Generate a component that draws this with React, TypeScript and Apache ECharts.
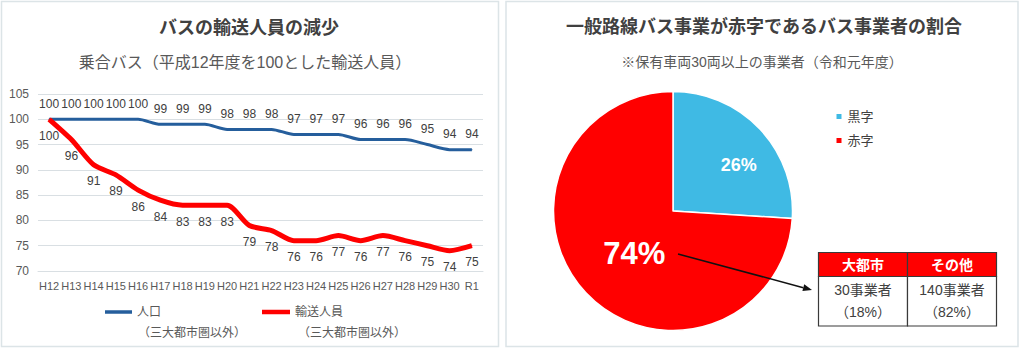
import React, { useEffect, useRef } from 'react';
import * as echarts from 'echarts';

const years = ['H12', 'H13', 'H14', 'H15', 'H16', 'H17', 'H18', 'H19', 'H20', 'H21', 'H22', 'H23', 'H24', 'H25', 'H26', 'H27', 'H28', 'H29', 'H30', 'R1'];
const population = [100, 100, 100, 100, 100, 99, 99, 99, 98, 98, 98, 97, 97, 97, 96, 96, 96, 95, 94, 94];
const ridership = [100, 96, 91, 89, 86, 84, 83, 83, 83, 79, 78, 76, 76, 77, 76, 77, 76, 75, 74, 75];
const lineSeriesNames = ['人口', '輸送人員'];
const lineNote = '（三大都市圏以外）';

const pieCategories = ['黒字', '赤字'];
const pieValues = [26, 74];

const tableHeaders = ['大都市', 'その他'];
const tableCounts = ['30事業者', '140事業者'];
const tableShares = ['（18%）', '（82%）'];

const FONT = "'Liberation Sans', 'Noto Sans CJK JP', sans-serif";
const DARK = '#404040';
const GRAY = '#595959';

export default function App() {
  const ref = useRef<HTMLDivElement>(null);

  useEffect(() => {
    document.body.style.margin = '0';
    if (!ref.current) return;
    const chart = echarts.init(ref.current, undefined, { renderer: 'svg' });

    const graphic: any[] = [];
    // panel frames
    graphic.push({ type: 'rect', silent: true, shape: { x: 1.5, y: 1.5, width: 497, height: 345 }, style: { fill: 'none', stroke: '#dce4e7', lineWidth: 1.5 } });
    graphic.push({ type: 'rect', silent: true, shape: { x: 506, y: 1.5, width: 512, height: 345 }, style: { fill: 'none', stroke: '#dce4e7', lineWidth: 1.5 } });

    const txt = (text: string, x: number, y: number, size: number, color: string, weight: string = 'normal', align: string = 'center') => ({
      type: 'text', silent: true, x, y, z: 100,
      style: { text, fontSize: size, fontWeight: weight, fontFamily: FONT, fill: color, textAlign: align, textVerticalAlign: 'middle' },
    });

    graphic.push(txt('バスの輸送人員の減少', 249, 28, 18, DARK, 'bold'));
    graphic.push(txt('乗合バス（平成12年度を100とした輸送人員）', 245, 62, 16, GRAY));
    graphic.push(txt(lineNote, 138, 333, 12, GRAY, 'normal', 'left'));
    graphic.push(txt(lineNote, 298, 333, 12, GRAY, 'normal', 'left'));

    graphic.push(txt('一般路線バス事業が赤字であるバス事業者の割合', 764, 27, 18, DARK, 'bold'));
    graphic.push(txt('※保有車両30両以上の事業者（令和元年度）', 762, 62, 14, GRAY));

    // arrow from 74% label to table
    const ax1 = 678, ay1 = 254, ax2 = 812, ay2 = 290;
    const dx = ax2 - ax1, dy = ay2 - ay1, len = Math.sqrt(dx * dx + dy * dy);
    const ux = dx / len, uy = dy / len;
    const bx = ax2 - ux * 9, by = ay2 - uy * 9;
    graphic.push({ type: 'line', silent: true, z: 100, shape: { x1: ax1, y1: ay1, x2: bx, y2: by }, style: { stroke: '#111', lineWidth: 1.5 } });
    graphic.push({ type: 'polygon', silent: true, z: 100, shape: { points: [[ax2, ay2], [bx - uy * 3.5, by + ux * 3.5], [bx + uy * 3.5, by - ux * 3.5]] }, style: { fill: '#111' } });

    // table
    const tx = 818.5, ty = 252.5, colW = 89, headH = 24, bodyH = 49.5;
    tableHeaders.forEach((h, i) => {
      const x = tx + i * colW;
      graphic.push({ type: 'rect', silent: true, z: 100, shape: { x, y: ty, width: colW, height: headH }, style: { fill: '#ff0000', stroke: '#3a3a3a', lineWidth: 1.2 } });
      graphic.push({ type: 'rect', silent: true, z: 100, shape: { x, y: ty + headH, width: colW, height: bodyH }, style: { fill: '#ffffff', stroke: '#3a3a3a', lineWidth: 1.2 } });
      graphic.push(txt(h, x + colW / 2, ty + headH / 2 + 0.5, 14, '#ffffff', 'bold'));
      graphic.push(txt(tableCounts[i], x + colW / 2, ty + headH + 13, 14, DARK));
      graphic.push(txt(tableShares[i], x + colW / 2, ty + headH + 35, 14, DARK));
    });

    chart.setOption({
      animation: false,
      backgroundColor: '#ffffff',
      textStyle: { fontFamily: FONT },
      grid: { left: 38, right: 541, top: 94, bottom: 81 },
      xAxis: {
        type: 'category',
        data: years,
        boundaryGap: true,
        axisLine: { show: true, lineStyle: { color: '#d9dfe3', width: 1 } },
        axisTick: { show: false },
        axisLabel: { color: GRAY, fontSize: 11, margin: 9, interval: 0, fontFamily: FONT },
      },
      yAxis: {
        type: 'value',
        min: 70,
        max: 105,
        interval: 5,
        axisLine: { show: false },
        axisTick: { show: false },
        axisLabel: { color: GRAY, fontSize: 12, margin: 9, fontFamily: FONT },
        splitLine: { lineStyle: { color: '#d9dfe3', width: 1 } },
      },
      legend: [
        {
          data: [lineSeriesNames[0]], left: 105, top: 306, padding: 0, icon: 'rect', itemWidth: 27, itemHeight: 3.5,
          textStyle: { color: GRAY, fontSize: 12, fontFamily: FONT }, selectedMode: false,
        },
        {
          data: [lineSeriesNames[1]], left: 262, top: 306, padding: 0, icon: 'rect', itemWidth: 28, itemHeight: 4.5,
          textStyle: { color: GRAY, fontSize: 12, fontFamily: FONT }, selectedMode: false,
        },
        {
          data: pieCategories, left: 834.5, top: 110, padding: 0, orient: 'vertical', icon: 'rect', itemWidth: 7, itemHeight: 7, itemGap: 11,
          textStyle: { color: DARK, fontSize: 13, fontFamily: FONT }, selectedMode: false,
        },
      ],
      series: [
        {
          name: lineSeriesNames[0],
          type: 'line',
          data: population,
          smooth: 0.25,
          symbol: 'circle',
          symbolSize: 1,
          showSymbol: true,
          color: '#255e9c',
          itemStyle: { color: '#255e9c' },
          lineStyle: { color: '#255e9c', width: 3 },
          label: { show: true, position: 'top', distance: 9, color: DARK, fontSize: 12, fontFamily: FONT },
          emphasis: { disabled: true },
          z: 3,
        },
        {
          name: lineSeriesNames[1],
          type: 'line',
          data: ridership,
          smooth: 0.25,
          symbol: 'circle',
          symbolSize: 1,
          showSymbol: true,
          color: '#ff0000',
          itemStyle: { color: '#ff0000' },
          lineStyle: { color: '#ff0000', width: 5 },
          label: { show: true, position: 'bottom', distance: 10, color: DARK, fontSize: 12, fontFamily: FONT },
          emphasis: { disabled: true },
          z: 4,
        },
        {
          name: '割合',
          type: 'pie',
          center: [673, 211],
          radius: [0, 119.5],
          startAngle: 90,
          clockwise: true,
          emphasis: { disabled: true },
          itemStyle: { borderColor: '#ffffff', borderWidth: 1.5 },
          labelLine: { show: false },
          label: { show: true, position: 'inner', formatter: '{c}%', color: '#ffffff', fontWeight: 'bold', fontFamily: FONT },
          data: [
            { name: pieCategories[0], value: pieValues[0], itemStyle: { color: '#3fbae4' }, label: { fontSize: 18, offset: [20, -3] } },
            { name: pieCategories[1], value: pieValues[1], itemStyle: { color: '#ff0000' }, label: { fontSize: 31, offset: [7, 0] } },
          ],
        },
      ],
      graphic: { elements: graphic },
    });

    return () => chart.dispose();
  }, []);

  return <div ref={ref} style={{ width: 1024, height: 352 }} />;
}
